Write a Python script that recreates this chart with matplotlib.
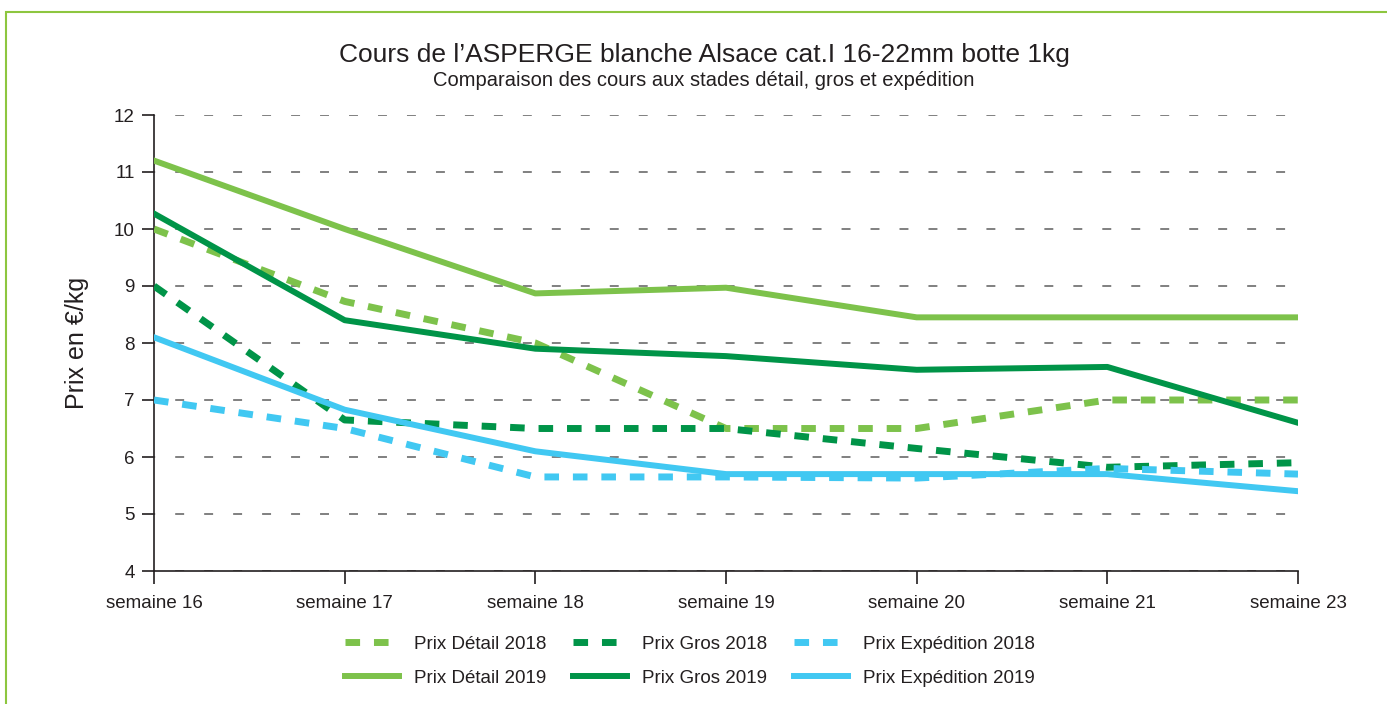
import matplotlib
matplotlib.use("Agg")
import matplotlib.pyplot as plt
from matplotlib.patches import Rectangle

plt.rcParams['font.family'] = ['Liberation Sans', 'DejaVu Sans']

weeks = ["semaine 16", "semaine 17", "semaine 18", "semaine 19", "semaine 20", "semaine 21", "semaine 23"]
detail_2018 = [10.0, 8.73, 8.0, 6.5, 6.5, 7.0, 7.0]
gros_2018 = [9.0, 6.65, 6.5, 6.5, 6.15, 5.82, 5.9]
exped_2018 = [7.0, 6.5, 5.65, 5.65, 5.63, 5.8, 5.7]
detail_2019 = [11.2, 10.0, 8.87, 8.97, 8.45, 8.45, 8.45]
gros_2019 = [10.27, 8.4, 7.9, 7.77, 7.53, 7.58, 6.6]
exped_2019 = [8.1, 6.83, 6.1, 5.7, 5.7, 5.7, 5.4]

c_detail = "#7DC24B"
c_gros = "#009448"
c_exped = "#41C8F2"

W, H = 1387, 704
fig = plt.figure(figsize=(W / 100, H / 100), dpi=100)
fig.patch.set_facecolor("white")
fig.add_artist(Rectangle((6 / W, -0.05), (W - 6) / W + 0.05, (H - 12) / H + 0.05, transform=fig.transFigure,
                         fill=False, edgecolor="#8DC63F", linewidth=1.5))

ax = fig.add_axes([154 / W, 1 - 571 / H, (1298 - 154) / W, (571 - 115) / H])
x = list(range(len(weeks)))

dash = (0, (2.1, 2.0))
lw_s = 4.3
lw_d = 5.0
ax.plot(x, detail_2018, color=c_detail, lw=lw_d, ls=dash, label="Prix Détail 2018", zorder=3)
ax.plot(x, detail_2019, color=c_detail, lw=lw_s, label="Prix Détail 2019", zorder=3)
ax.plot(x, gros_2018, color=c_gros, lw=lw_d, ls=dash, label="Prix Gros 2018", zorder=3)
ax.plot(x, gros_2019, color=c_gros, lw=lw_s, label="Prix Gros 2019", zorder=3)
ax.plot(x, exped_2018, color=c_exped, lw=lw_d, ls=dash, label="Prix Expédition 2018", zorder=3)
ax.plot(x, exped_2019, color=c_exped, lw=lw_s, label="Prix Expédition 2019", zorder=3)

ax.set_xlim(0, len(weeks) - 1)
ax.set_ylim(4, 12)
ax.set_yticks(range(4, 13))
ax.set_xticks(x)
ax.set_xticklabels(weeks)
ax.yaxis.grid(True, color="#808080", ls=(4, (4.6, 10.3)), lw=1.4)
ax.set_axisbelow(True)
for s in ["top", "right"]:
    ax.spines[s].set_visible(False)
for s in ["left", "bottom"]:
    ax.spines[s].set_color("#231F20")
    ax.spines[s].set_linewidth(1.2)
ax.tick_params(axis="both", direction="out", length=9, width=1.2, color="#231F20",
               labelsize=13.5, labelcolor="#231F20")
ax.tick_params(axis="x", pad=8)
ax.tick_params(axis="y", pad=5)
ax.set_ylabel("Prix en €/kg", fontsize=18, color="#231F20", labelpad=18)

fig.text(704 / W, 1 - 55 / H, "Cours de l\u2019ASPERGE blanche Alsace cat.I 16-22mm botte 1kg",
         ha="center", va="center", fontsize=19, color="#231F20")
fig.text(704 / W, 1 - 80 / H, "Comparaison des cours aux stades détail, gros et expédition",
         ha="center", va="center", fontsize=14.5, color="#231F20")

leg = fig.legend(loc="center", bbox_to_anchor=(690 / W, 1 - 661 / H), ncol=3, frameon=False,
                 fontsize=13.5, handlelength=2.9, columnspacing=1.4, labelspacing=0.9,
                 handletextpad=0.8, labelcolor="#231F20")

fig.savefig("out.png", dpi=100, facecolor="white")
